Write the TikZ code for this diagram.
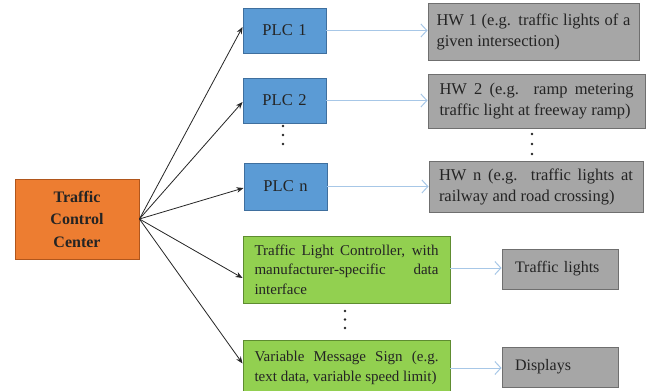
\documentclass[tikz,border=0pt]{standalone}
\usepackage{fontspec}
\setmainfont{LiberationSerif}[Extension=.ttf, UprightFont=*-Regular, BoldFont=*-Bold, ItalicFont=*-Italic, BoldItalicFont=*-BoldItalic]
\usetikzlibrary{arrows.meta,calc}
\definecolor{orangeF}{HTML}{ED7D31}
\definecolor{orangeD}{HTML}{B0561C}
\definecolor{blueF}{HTML}{5B9BD5}
\definecolor{blueD}{HTML}{3F6F9E}
\definecolor{greenF}{HTML}{92D050}
\definecolor{greenD}{HTML}{5E8C30}
\definecolor{grayF}{HTML}{A6A6A6}
\definecolor{grayD}{HTML}{6F6F6F}
\definecolor{txt}{HTML}{242424}
\definecolor{linkblue}{HTML}{A7C7E7}
\tikzset{
  box/.style={draw, line width=0.9pt, rectangle, text=txt, inner ysep=2pt},
  tccbox/.style={box, fill=orangeF, draw=orangeD, minimum width=124pt, minimum height=80pt,
     text width=100pt, inner xsep=12pt, align=center,
     font=\fontsize{16}{22.5}\selectfont\bfseries},
  plcbox/.style={box, fill=blueF, draw=blueD, minimum width=83pt, minimum height=45pt,
     text width=67pt, inner xsep=8pt, align=center, font=\fontsize{16.5}{21}\selectfont},
  hwbox/.style={box, fill=grayF, draw=grayD, minimum height=54pt,
     text width=194pt, inner xsep=8pt, align=justify, font=\fontsize{16.5}{21}\selectfont},
  devbox/.style={box, fill=greenF, draw=greenD, minimum width=207pt,
     text width=184pt, inner xsep=11.5pt, align=justify, font=\fontsize{15}{19.5}\selectfont},
  outbox/.style={box, fill=grayF, draw=grayD, minimum width=116pt, minimum height=40pt,
     text width=90pt, inner xsep=13pt, align=left, font=\fontsize{16}{20}\selectfont},
  feed/.style={draw=black!85, line width=0.8pt, -{Stealth[length=7pt,width=5.5pt]}},
  link/.style={draw=linkblue, line width=1pt, -{Straight Barb[length=6pt,width=13pt]}},
  dot/.style={fill=black!85}
}
\begin{document}
\begin{tikzpicture}[x=1pt,y=-1pt]
\useasboundingbox (0,0) rectangle (649,391);
\fill[white] (0,0) rectangle (649,391);

\node[tccbox] (tcc) at (77,219) {Traffic\\Control\\Center};

\node[plcbox] (plc1) at (284.5,30.5) {PLC 1};
\node[plcbox] (plc2) at (284.5,100.5) {PLC 2};
\node[plcbox, minimum height=47pt] (plcn) at (285.5,186.5) {PLC n};

\node[hwbox, minimum width=211pt, minimum height=57pt] (hw1) at (533.5,31.5)
  {HW 1 (e.g. traffic lights of a\linebreak given intersection)};
\node[hwbox, minimum width=217pt, minimum height=54pt] (hw2) at (536.5,101)
  {HW 2 (e.g. ramp metering\linebreak traffic light at freeway ramp)};
\node[hwbox, minimum width=214pt, minimum height=51pt] (hwn) at (536,186.5)
  {HW n (e.g. traffic lights at\linebreak railway and road crossing)};

\node[devbox, minimum height=67pt] (tlc) at (346.5,269.5)
  {Traffic Light Controller, with\linebreak manufacturer-specific data\linebreak interface};
\node[devbox, minimum height=56pt] (vms) at (346.5,368)
  {Variable Message Sign (e.g.\linebreak text data, variable speed limit)};

\node[outbox] (tl) at (560,269) {Traffic lights};
\node[outbox] (disp) at (560,367) {Displays};

% feed arrows
\draw[feed] (tcc.east) -- ($(plc1.west)+(0,-3.5)$);
\draw[feed] (tcc.east) -- ($(plc2.west)+(0,1.5)$);
\draw[feed] (tcc.east) -- ($(plcn.west)+(0,1.5)$);
\draw[feed] (tcc.east) -- ($(tlc.west)+(0,8.5)$);
\draw[feed] (tcc.east) -- ($(vms.west)+(0,-4.5)$);

% links
\draw[link] (plc1.east) -- (plc1.east -| hw1.west);
\draw[link] (plc2.east) -- (plc2.east -| hw2.west);
\draw[link] (plcn.east) -- (plcn.east -| hwn.west);
\draw[link] ($(tlc.east)+(0,-1.5)$) -- ($(tlc.east -| tl.west)+(0,-1.5)$);
\draw[link] (vms.east) -- (vms.east -| disp.west);

% ellipsis dots
\foreach \y in {126,135,144} \fill[dot] (283,\y) circle (1.3pt);
\foreach \y in {134,144,154} \fill[dot] (532,\y) circle (1.3pt);
\foreach \y in {311,319.5,328} \fill[dot] (345,\y) circle (1.3pt);
\end{tikzpicture}
\end{document}
